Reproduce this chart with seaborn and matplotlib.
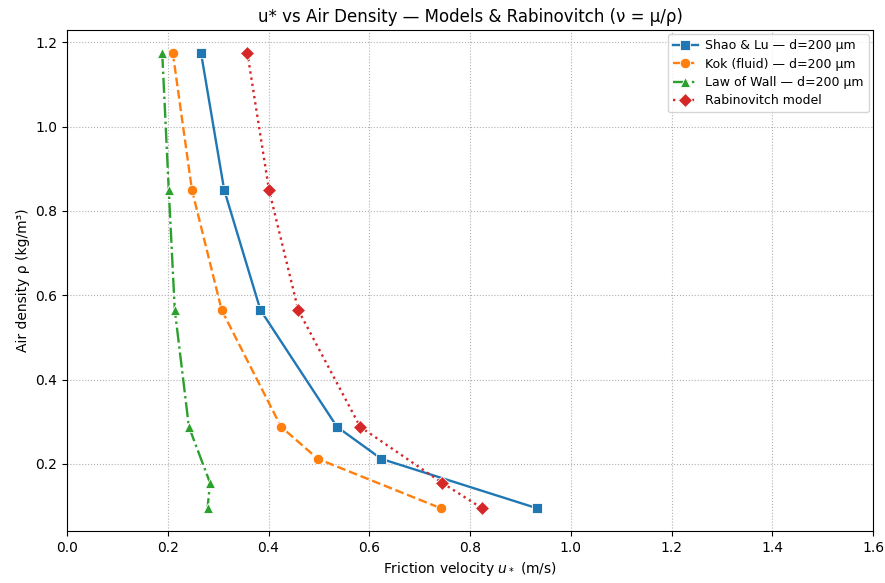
import matplotlib
matplotlib.use("Agg")
import matplotlib.pyplot as plt
import seaborn as sns
import pandas as pd

rho_shao = [1.175, 0.85, 0.565, 0.288, 0.212, 0.095]
u_shao = [0.266, 0.312, 0.384, 0.536, 0.624, 0.933]

rho_kok = [1.175, 0.85, 0.565, 0.288, 0.212, 0.095]
u_kok = [0.210, 0.248, 0.307, 0.425, 0.498, 0.742]

rho_wall = [1.175, 0.85, 0.565, 0.288, 0.155, 0.095]
u_wall = [0.189, 0.202, 0.214, 0.242, 0.284, 0.279]

rho_rab = [1.175, 0.85, 0.565, 0.288, 0.155, 0.095]
u_rab = [0.358, 0.401, 0.459, 0.582, 0.745, 0.824]

labels = ["Shao & Lu — d=200 µm", "Kok (fluid) — d=200 µm",
          "Law of Wall — d=200 µm", "Rabinovitch model"]

series = [(u_shao, rho_shao, "s", "-", "#1f77b4", 7.5),
          (u_kok, rho_kok, "o", "--", "#ff7f0e", 7.5),
          (u_wall, rho_wall, "^", "-.", "#2ca02c", 7.5),
          (u_rab, rho_rab, "D", ":", "#d62728", 7.5)]

plt.rcParams['font.family'] = ['DejaVu Sans']
fig = plt.figure(figsize=(8.85, 5.83), dpi=100)
ax = fig.add_axes([67/885, 1 - 531/583, (873-67)/885, (531-30)/583])

for (u, r, m, ls, c, ms), lab in zip(series, labels):
    df = pd.DataFrame({"u": u, "rho": r})
    sns.lineplot(data=df, x="u", y="rho", sort=False, ax=ax, marker=m,
                 linestyle=ls, color=c, label=lab, markersize=ms,
                 markeredgecolor="white", markeredgewidth=0.6, linewidth=1.7)

ax.set_xlim(0, 1.6)
ax.set_title("u* vs Air Density — Models & Rabinovitch (ν = μ/ρ)", fontsize=12)
ax.set_xlabel("Friction velocity $u_*$ (m/s)", fontsize=10)
ax.set_ylabel("Air density ρ (kg/m³)", fontsize=10)
ax.grid(True, linestyle=":", linewidth=0.8, color="#b0b0b0")
ax.legend(loc="upper right", fontsize=9, labelspacing=0.42, handlelength=2.0,
          handletextpad=0.6, borderaxespad=0.35)
fig.savefig("out.png", dpi=100)
